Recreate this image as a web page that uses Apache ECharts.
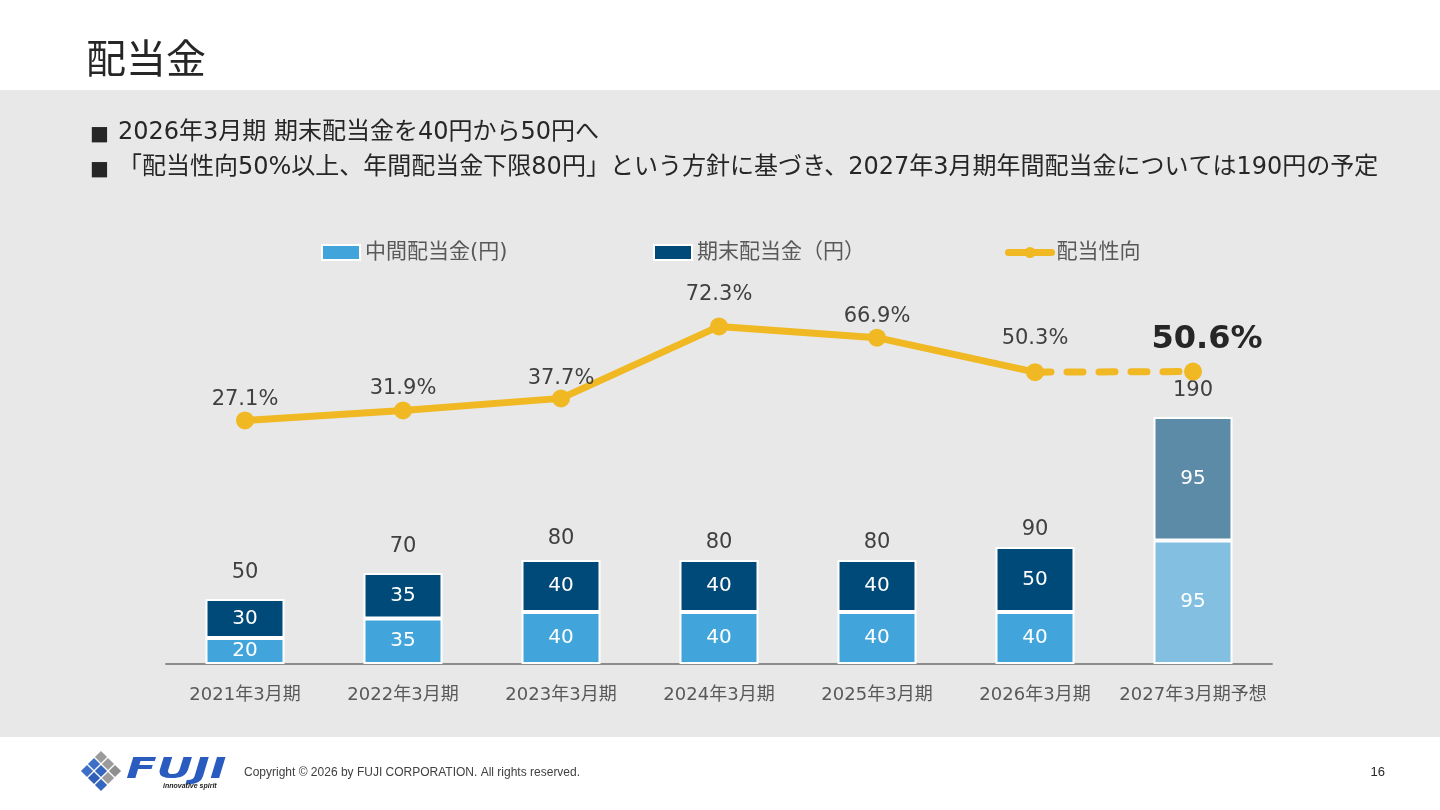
<!DOCTYPE html>
<html style="height:100%;width:100%;">
<head>
  <meta charset="utf-8">
  <title>配当金</title>
  <script src="https://cdn.jsdelivr.net/npm/echarts@6/dist/echarts.min.js"></script>
</head>
<body style="margin:0px;height:100%;width:100%;background:#fff;">
  <div id="main" style="width:1440px;height:810px"></div>
  <script type="text/javascript" charset="utf-8">
    // データ
    var categories = ['2021年3月期', '2022年3月期', '2023年3月期', '2024年3月期', '2025年3月期', '2026年3月期', '2027年3月期予想'];
    var interimDiv = [20, 35, 40, 40, 40, 40, 95]; // 中間配当金(円)
    var yearEndDiv = [30, 35, 40, 40, 40, 50, 95]; // 期末配当金（円）
    var payoutRatio = [27.1, 31.9, 37.7, 72.3, 66.9, 50.3, 50.6]; // 配当性向(%)
    var bullets = [
      '2026年3月期 期末配当金を40円から50円へ',
      '「配当性向50%以上、年間配当金下限80円」という方針に基づき、2027年3月期年間配当金については190円の予定'
    ];

    // 見た目の調整（ラベル位置）
    var totalLift = [16, 16, 11, 7, 7, 7, 16];
    var ratioLift = [1, 2, 0, 12, 2, 14, 7];

    var FONT = "'DejaVu Sans', 'Noto Sans CJK JP', sans-serif";
    var LABEL = '#404040';
    var lastIdx = categories.length - 1;
    var totals = interimDiv.map(function (v, i) { return v + yearEndDiv[i]; });

    var interimData = interimDiv.map(function (v, i) {
      return i === lastIdx ? { value: v, itemStyle: { color: '#82bfe0' } } : v;
    });
    var yearEndData = yearEndDiv.map(function (v, i) {
      return i === lastIdx ? { value: v, itemStyle: { color: '#5c8ba7' } } : v;
    });
    var totalData = totals.map(function (v, i) {
      return { value: v, label: { distance: totalLift[i] } };
    });
    // 実績（実線）と予想（点線）
    var ratioSolid = payoutRatio.map(function (v, i) {
      return i === lastIdx ? '-' : { value: v, label: { distance: ratioLift[i] } };
    });
    var ratioDash = payoutRatio.map(function (v, i) {
      if (i < lastIdx - 1) return '-';
      if (i === lastIdx - 1) return { value: v, symbolSize: 0, label: { show: false } };
      return {
        value: v,
        label: {
          show: true, distance: ratioLift[i], offset: [14, 0],
          fontSize: 32, fontWeight: 'bold', color: '#262626', fontFamily: FONT
        }
      };
    });

    // 左下ロゴ（菱形）
    var logoSquares = [];
    var sqColors = [
      ['#9b9b9b', '#9b9b9b', '#8f8f8f'],
      ['#3d6fc6', '#3466bd', '#9b9b9b'],
      ['#3d6fc6', '#2f5fb8', '#3466bd']
    ];
    for (var r = 0; r < 3; r++) {
      for (var c = 0; c < 3; c++) {
        logoSquares.push({
          type: 'rect',
          x: 101 + (c - r) * 7,
          y: 757 + (r + c) * 7,
          rotation: Math.PI / 4,
          shape: { x: -4.3, y: -4.3, width: 8.6, height: 8.6 },
          style: { fill: sqColors[r][c] }
        });
      }
    }

    var myChart = echarts.init(document.getElementById('main'));

    var graphics = [
      { type: 'rect', z: -10, shape: { x: 0, y: 90, width: 1440, height: 647 }, style: { fill: '#e8e8e8' } },
      { type: 'text', left: 86, top: 43, style: { text: '配当金', font: '40px ' + FONT, fill: '#262626' } },
      { type: 'text', left: 90, top: 125, style: { text: '■', font: '20px ' + FONT, fill: '#262626' } },
      { type: 'text', left: 118, top: 121, style: { text: bullets[0], font: '24px ' + FONT, fill: '#262626' } },
      { type: 'text', left: 90, top: 160, style: { text: '■', font: '20px ' + FONT, fill: '#262626' } },
      { type: 'text', left: 118, top: 156, style: { text: bullets[1], font: '24px ' + FONT, fill: '#262626' } },
      { type: 'text', x: 126, y: 757, scaleX: 1.6, style: { text: 'FUJI', font: 'italic 900 28px "DejaVu Sans"', fill: '#2a5cbf' } },
      { type: 'text', left: 163, top: 783, style: { text: 'innovative spirit', font: 'italic bold 7px "Liberation Sans"', fill: '#222' } },
      { type: 'text', left: 244, top: 767, style: { text: 'Copyright © 2026 by FUJI CORPORATION. All rights reserved.', font: '12px "Liberation Sans"', fill: '#404040' } },
      { type: 'text', right: 55, top: 766, style: { text: '16', font: '13px "Liberation Sans"', fill: '#262626' } }
    ].concat(logoSquares);

    var legendBase = {
      top: 242,
      padding: 0,
      itemWidth: 38,
      itemHeight: 15,
      itemGap: 5,
      textStyle: { fontSize: 21, color: '#595959', fontFamily: FONT }
    };

    option = {
      backgroundColor: '#ffffff',
      animation: false,
      graphic: graphics,
      legend: [
        Object.assign({ left: 321, data: [{ name: '中間配当金(円)', icon: 'rect' }] }, legendBase),
        Object.assign({ left: 653, data: [{ name: '期末配当金（円）', icon: 'rect' }] }, legendBase),
        Object.assign({ left: 1005, data: ['配当性向'] }, legendBase, {
          itemWidth: 43, itemHeight: 14, lineStyle: { width: 7, cap: 'round' }
        })
      ],
      grid: { left: 166, right: 168, top: 300, bottom: 146 },
      xAxis: {
        type: 'category',
        data: categories,
        axisLine: { lineStyle: { color: '#8c8c8c', width: 2 } },
        axisTick: { show: false },
        axisLabel: { interval: 0, margin: 22, fontSize: 18, color: '#595959', fontFamily: FONT }
      },
      yAxis: [
        { type: 'value', min: 0, max: 280, show: false, splitLine: { show: false } },
        { type: 'value', min: -90, max: 85, show: false, splitLine: { show: false } }
      ],
      series: [
        {
          name: '中間配当金(円)',
          type: 'bar',
          stack: 'div',
          barWidth: '50%',
          data: interimData,
          itemStyle: { color: '#41a5dc', borderColor: '#ffffff', borderWidth: 2 },
          label: { show: true, position: 'inside', color: '#ffffff', fontSize: 20, fontFamily: FONT }
        },
        {
          name: '期末配当金（円）',
          type: 'bar',
          stack: 'div',
          data: yearEndData,
          itemStyle: { color: '#004a7a', borderColor: '#ffffff', borderWidth: 2 },
          label: { show: true, position: 'inside', color: '#ffffff', fontSize: 20, fontFamily: FONT }
        },
        {
          name: '合計',
          type: 'scatter',
          symbolSize: 0,
          data: totalData,
          silent: true,
          itemStyle: { opacity: 1 },
          label: { show: true, position: 'top', color: LABEL, fontSize: 21, fontFamily: FONT }
        },
        {
          name: '配当性向',
          type: 'line',
          yAxisIndex: 1,
          data: ratioSolid,
          symbol: 'circle',
          symbolSize: 18,
          color: '#f0b823',
          lineStyle: { width: 7, color: '#f0b823' },
          itemStyle: { color: '#f0b823' },
          label: {
            show: true, position: 'top', color: LABEL, fontSize: 21, fontFamily: FONT,
            formatter: function (p) { return p.value.toFixed(1) + '%'; }
          },
          z: 5
        },
        {
          name: '配当性向(予想)',
          type: 'line',
          yAxisIndex: 1,
          data: ratioDash,
          symbol: 'circle',
          symbolSize: 18,
          lineStyle: { width: 7, color: '#f0b823', type: [16, 16], cap: 'round' },
          itemStyle: { color: '#f0b823' },
          label: {
            show: true, position: 'top',
            formatter: function (p) { return p.value.toFixed(1) + '%'; }
          },
          z: 5
        }
      ]
    };

    if (option && typeof option === 'object') {
      myChart.setOption(option, true);
    }
  </script>
</body>
</html>
